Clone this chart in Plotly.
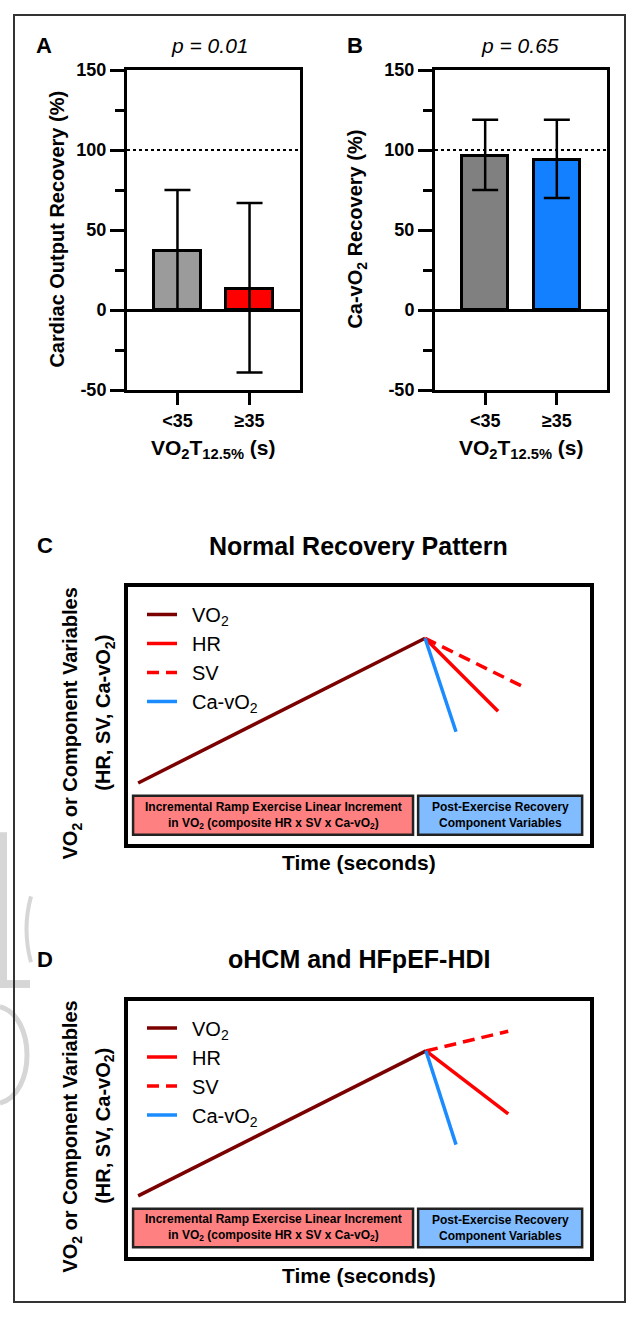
import plotly.graph_objects as go

W, H = 635, 1318

# ---------------- data ----------------
groups = ["<35", "≥35"]
group_pos = [0, 1]

y_tickvals = [-50, 0, 50, 100, 150]
y_ticktext = ["-50", "0", "50", "100", "150"]

co_recovery = [37, 13]          # Cardiac output recovery (%)
co_err_plus = [38, 54]
co_err_minus = [37, 52]

cavo2_recovery = [96, 94]       # Ca-vO2 recovery (%)
cavo2_err_plus = [23, 25]
cavo2_err_minus = [21, 24]

p_values = ["p = 0.01", "p = 0.65"]

# schematic panels (arbitrary units, 0-100)
c_vo2_t = [2.2, 64.3];  c_vo2_v = [23.8, 80.1]
c_hr_t = [64.3, 80.1];  c_hr_v = [80.1, 51.7]
c_sv_t = [64.3, 85.9];  c_sv_v = [80.1, 60.9]
c_ca_t = [64.3, 71.0];  c_ca_v = [80.1, 43.7]

d_vo2_t = [2.2, 64.5];  d_vo2_v = [23.8, 80.4]
d_hr_t = [64.5, 82.3];  d_hr_v = [80.4, 55.8]
d_sv_t = [64.5, 82.3];  d_sv_v = [80.4, 88.1]
d_ca_t = [64.5, 71.0];  d_ca_v = [80.4, 43.8]

series_names = ["VO<sub>2</sub>", "HR", "SV", "Ca-vO<sub>2</sub>"]

FONT = "Liberation Sans, Arial, Helvetica, sans-serif"
C_VO2 = "#7B0000"
C_RED = "#FF0000"
C_BLUE = "#1A8CFF"


def px(x):
    return x / W


def py(y):
    return 1 - y / H


fig = go.Figure()

# ---------------- bars A ----------------
fig.add_trace(go.Bar(
    x=group_pos, y=co_recovery, width=0.65,
    marker=dict(color=["#9B9B9B", "#FF0000"], line=dict(color="black", width=3)),
    error_y=dict(type="data", symmetric=False, array=co_err_plus, arrayminus=co_err_minus,
                 color="black", thickness=2.5, width=13),
    xaxis="x", yaxis="y", showlegend=False))

# ---------------- bars B ----------------
fig.add_trace(go.Bar(
    x=group_pos, y=cavo2_recovery, width=0.65,
    marker=dict(color=["#808080", "#1280FF"], line=dict(color="black", width=3)),
    error_y=dict(type="data", symmetric=False, array=cavo2_err_plus, arrayminus=cavo2_err_minus,
                 color="black", thickness=2.5, width=13),
    xaxis="x2", yaxis="y2", showlegend=False))

# ---------------- lines C / D ----------------
def add_lines(ts, vs, xa, ya, leg):
    styles = [dict(color=C_VO2, width=3.5),
              dict(color=C_RED, width=3.5),
              dict(color=C_RED, width=3.5, dash="12px,7px"),
              dict(color=C_BLUE, width=3.5)]
    for name, t, v, st in zip(series_names, ts, vs, styles):
        fig.add_trace(go.Scatter(x=t, y=v, mode="lines", line=st, name="\u2002" + name,
                                 xaxis=xa, yaxis=ya, legend=leg))


add_lines([c_vo2_t, c_hr_t, c_sv_t, c_ca_t], [c_vo2_v, c_hr_v, c_sv_v, c_ca_v], "x3", "y3", "legend")
add_lines([d_vo2_t, d_hr_t, d_sv_t, d_ca_t], [d_vo2_v, d_hr_v, d_sv_v, d_ca_v], "x4", "y4", "legend2")

# ---------------- axes ----------------
tickfont = dict(family=FONT, size=18, color="black", weight="bold")


def bar_yaxis():
    return dict(domain=[py(386), py(61)], range=[-50, 150],
                tickvals=y_tickvals, ticktext=y_ticktext, ticks="outside", ticklen=14, tickwidth=3,
                tickcolor="black", showline=True, linewidth=3, linecolor="black", mirror=True,
                showgrid=False, zeroline=True, zerolinecolor="black", zerolinewidth=3,
                tickfont=tickfont,
                minor=dict(dtick=25, ticks="outside", ticklen=9, tickwidth=3, tickcolor="black",
                           showgrid=False))


def bar_xaxis(dom):
    return dict(domain=dom, range=[-0.7, 1.7], tickvals=group_pos, ticktext=groups,
                ticks="outside", ticklen=12, tickwidth=3, tickcolor="black",
                showline=True, linewidth=3, linecolor="black", mirror=True,
                showgrid=False, zeroline=False, tickfont=tickfont)


ya = bar_yaxis(); ya["anchor"] = "x"
yb = bar_yaxis(); yb["anchor"] = "x2"
xa = bar_xaxis([px(127), px(300)]); xa["anchor"] = "y"
xb = bar_xaxis([px(435), px(607)]); xb["anchor"] = "y2"


def schem_axes(ytop, ybot):
    xd = dict(domain=[px(128), px(590)], range=[0, 100], showticklabels=False, ticks="",
              showline=True, linewidth=3.5, linecolor="black", mirror=True,
              showgrid=False, zeroline=False, fixedrange=True)
    yd = dict(domain=[py(ybot), py(ytop)], range=[0, 100], showticklabels=False, ticks="",
              showline=True, linewidth=3.5, linecolor="black", mirror=True,
              showgrid=False, zeroline=False, fixedrange=True)
    return xd, yd


xc, yc = schem_axes(586, 847)
xd_, yd_ = schem_axes(1006, 1266)
xc["anchor"] = "y3"; yc["anchor"] = "x3"
xd_["anchor"] = "y4"; yd_["anchor"] = "x4"

legend_common = dict(xanchor="left", yanchor="top", bgcolor="rgba(0,0,0,0)",
                     font=dict(family=FONT, size=20, color="black"),
                     tracegroupgap=0, itemwidth=30, borderwidth=0)

fig.update_layout(
    width=W, height=H, autosize=False,
    margin=dict(l=0, r=0, t=0, b=0),
    paper_bgcolor="white", plot_bgcolor="white",
    font=dict(family=FONT, color="black"),
    bargap=0,
    xaxis=xa, yaxis=ya, xaxis2=xb, yaxis2=yb,
    xaxis3=xc, yaxis3=yc, xaxis4=xd_, yaxis4=yd_,
    legend=dict(x=px(142), y=py(594), **legend_common),
    legend2=dict(x=px(142), y=py(1014), **legend_common),
)

shapes = []
# outer frame
shapes.append(dict(type="rect", xref="paper", yref="paper", x0=px(14), x1=px(625),
                   y0=py(1312), y1=py(5), line=dict(color="#333333", width=2)))
# dotted 100% reference lines
for xr, yr in (("x domain", "y"), ("x2 domain", "y2")):
    shapes.append(dict(type="line", xref=xr, yref=yr, x0=0, x1=1, y0=100, y1=100,
                       line=dict(color="black", width=2, dash="dot")))

# phase boxes in schematic panels
box_specs = [(1.1, 61.7, "#FF8080"), (62.8, 98.3, "#80BCFF")]
for xr, yr in (("x3", "y3"), ("x4", "y4")):
    for x0, x1, col in box_specs:
        shapes.append(dict(type="rect", xref=xr, yref=yr, x0=x0, x1=x1, y0=3.7, y1=18.8,
                           fillcolor=col, line=dict(color="#222222", width=2.5), layer="above"))

# faint watermark fragments at left edge
g = "#D6D6D6"
shapes.append(dict(type="rect", xref="paper", yref="paper", x0=px(0), x1=px(7), y0=py(993), y1=py(835),
                   fillcolor=g, line=dict(width=0), layer="below"))
shapes.append(dict(type="rect", xref="paper", yref="paper", x0=px(0), x1=px(30), y0=py(993), y1=py(985),
                   fillcolor=g, line=dict(width=0), layer="below"))
shapes.append(dict(type="path", xref="paper", yref="paper",
                   path=f"M {px(0)} {py(1012)} C {px(36)} {py(1022)}, {px(36)} {py(1100)}, {px(0)} {py(1110)}",
                   line=dict(color=g, width=5), layer="below"))
shapes.append(dict(type="path", xref="paper", yref="paper",
                   path=f"M {px(31)} {py(900)} Q {px(22)} {py(933)}, {px(31)} {py(967)}",
                   line=dict(color=g, width=4), layer="below"))

fig.update_layout(shapes=shapes)

ann = []


def text(x, y, s, size, bold=True, angle=0, xanchor="center"):
    ann.append(dict(x=px(x), y=py(y), xref="paper", yref="paper", text=s, showarrow=False,
                    xanchor=xanchor, yanchor="middle", textangle=angle,
                    font=dict(family=FONT, size=size, color="black",
                              weight="bold" if bold else "normal")))


# panel A / B
text(44, 36, "A", 22)
text(209, 36, "<i>" + p_values[0] + "</i>", 21, bold=False)
text(355, 36, "B", 22)
text(520, 36, "<i>" + p_values[1] + "</i>", 21, bold=False)
text(57, 223, "Cardiac Output Recovery (%)", 20, angle=-90)
text(357, 223, "Ca-vO<sub>2</sub> Recovery (%)", 20, angle=-90)
text(213, 446, "VO<sub>2</sub>T<sub>12.5%</sub> (s)", 21)
text(521, 446, "VO<sub>2</sub>T<sub>12.5%</sub> (s)", 21)

# panel C / D
for lab, title, ytit, ytop, ybot in (("C", "Normal Recovery Pattern", 544, 586, 847),
                                     ("D", "oHCM and HFpEF-HDI", 964, 1006, 1266)):
    text(45, ytit, lab, 22)
    text(359, ytit, title, 25)
    mid = (ytop + ybot) / 2
    text(72, mid + 8, "VO<sub>2</sub> or Component Variables", 20, angle=-90)
    text(105, mid - 3, "(HR, SV, Ca-vO<sub>2</sub>)", 20, angle=-90)
    text(359, ybot + 19, "Time (seconds)", 21)

for xr, yr in (("x3", "y3"), ("x4", "y4")):
    ann.append(dict(x=31.4, y=11.25, xref=xr, yref=yr, showarrow=False,
                    text="Incremental Ramp Exercise Linear Increment<br>in VO<sub>2</sub> (composite HR x SV x Ca-vO<sub>2</sub>)",
                    font=dict(family=FONT, size=12, color="black", weight="bold")))
    ann.append(dict(x=80.55, y=11.25, xref=xr, yref=yr, showarrow=False,
                    text="Post-Exercise Recovery<br>Component Variables",
                    font=dict(family=FONT, size=12, color="black", weight="bold")))

fig.update_layout(annotations=ann)

fig.write_html("out.html", config={"displayModeBar": False},
               post_script="document.body.style.margin='0';document.body.style.padding='0';"
                           "document.body.style.overflow='hidden';")
